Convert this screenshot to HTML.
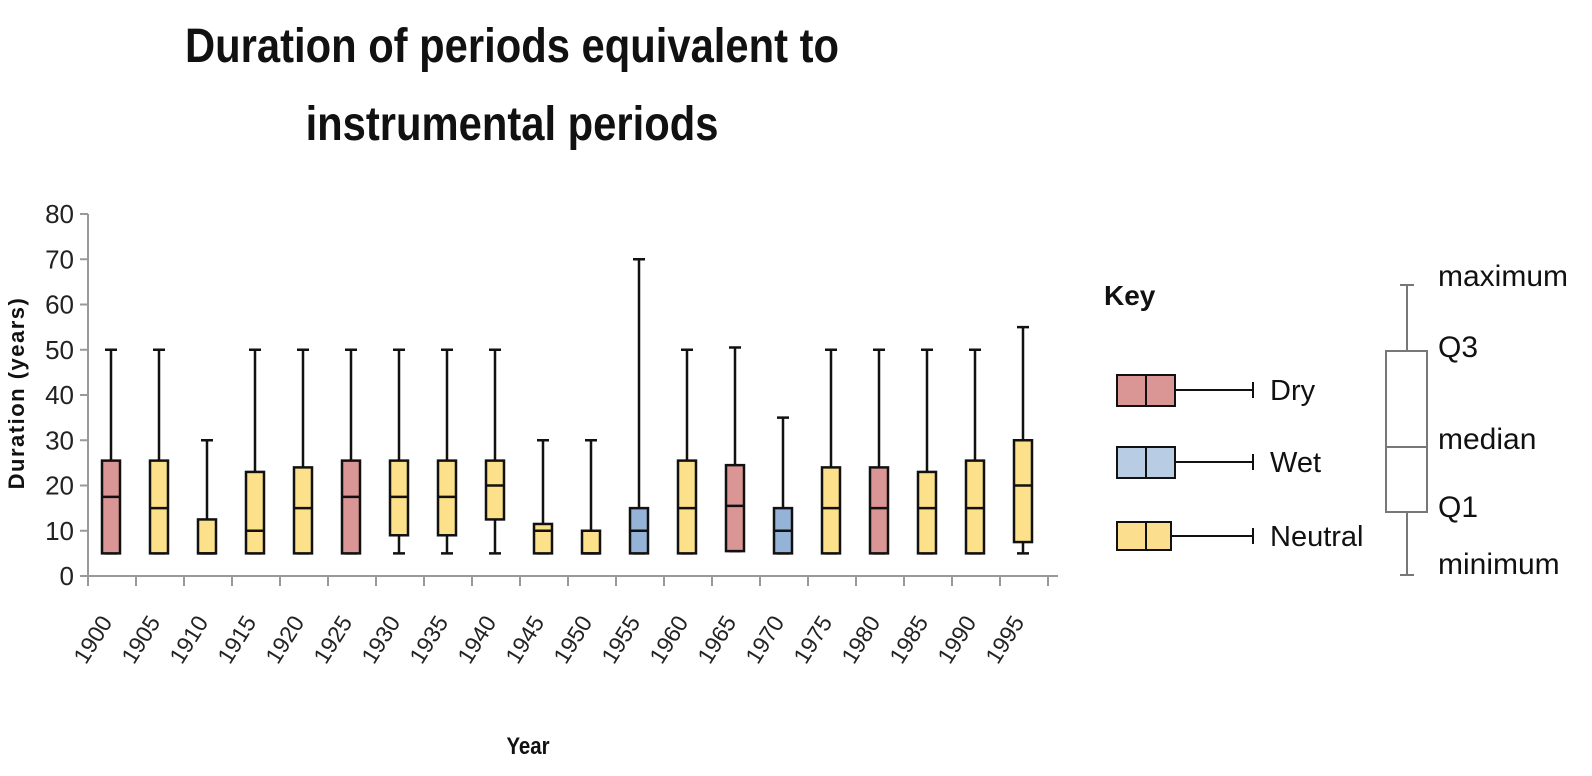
<!DOCTYPE html>
<html><head><meta charset="utf-8"><style>
body{margin:0;background:#fff;}
svg{display:block;font-family:"Liberation Sans",sans-serif;}
</style></head><body>
<svg width="1592" height="776" viewBox="0 0 1592 776">
<text x="512" y="62" text-anchor="middle" font-size="48" font-weight="bold" fill="#111" transform="translate(512 0) scale(0.87 1) translate(-512 0)">Duration of periods equivalent to</text>
<text x="512" y="140" text-anchor="middle" font-size="48" font-weight="bold" fill="#111" transform="translate(512 0) scale(0.87 1) translate(-512 0)">instrumental periods</text>
<text transform="translate(24 393) rotate(-90)" text-anchor="middle" font-size="22" font-weight="bold" fill="#111" letter-spacing="1.5">Duration  (years)</text>
<text x="528" y="754" text-anchor="middle" font-size="24" font-weight="bold" fill="#111" transform="translate(528 0) scale(0.85 1) translate(-528 0)">Year</text>
<g id="axes"></g>
<g id="boxes"></g>
<g id="legend">
  <text x="1104" y="305" font-size="28" font-weight="bold" fill="#111">Key</text>
  <g>
    <rect x="1117" y="375" width="58" height="31" fill="#d99694" stroke="#111" stroke-width="2"/>
    <line x1="1146" y1="375" x2="1146" y2="406" stroke="#111" stroke-width="2"/>
    <line x1="1175" y1="390" x2="1253" y2="390" stroke="#111" stroke-width="2"/>
    <line x1="1253" y1="382" x2="1253" y2="398" stroke="#111" stroke-width="2"/>
    <text x="1270" y="400" font-size="29" fill="#111">Dry</text>
  </g>
  <g>
    <rect x="1117" y="447" width="58" height="31" fill="#b8cce4" stroke="#111" stroke-width="2"/>
    <line x1="1146" y1="447" x2="1146" y2="478" stroke="#111" stroke-width="2"/>
    <line x1="1175" y1="462" x2="1253" y2="462" stroke="#111" stroke-width="2"/>
    <line x1="1253" y1="454" x2="1253" y2="470" stroke="#111" stroke-width="2"/>
    <text x="1270" y="472" font-size="29" fill="#111">Wet</text>
  </g>
  <g>
    <rect x="1117" y="522" width="54" height="28" fill="#fcdf8e" stroke="#111" stroke-width="2"/>
    <line x1="1146" y1="522" x2="1146" y2="550" stroke="#111" stroke-width="2"/>
    <line x1="1171" y1="536" x2="1253" y2="536" stroke="#111" stroke-width="2"/>
    <line x1="1253" y1="528" x2="1253" y2="544" stroke="#111" stroke-width="2"/>
    <text x="1270" y="546" font-size="29" fill="#111">Neutral</text>
  </g>
</g>
<g stroke="#777" stroke-width="2" fill="none">
  <line x1="1407" y1="285" x2="1407" y2="351"/>
  <line x1="1400" y1="285" x2="1414" y2="285"/>
  <rect x="1386" y="351" width="41" height="161" fill="#fff"/>
  <line x1="1386" y1="447" x2="1427" y2="447"/>
  <line x1="1407" y1="512" x2="1407" y2="575"/>
  <line x1="1400" y1="575" x2="1414" y2="575"/>
</g>
<g font-size="30" fill="#111">
  <text x="1438" y="286">maximum</text>
  <text x="1438" y="357">Q3</text>
  <text x="1438" y="449">median</text>
  <text x="1438" y="517">Q1</text>
  <text x="1438" y="574">minimum</text>
</g>
</svg>
<script>
const years=['1900','1905','1910','1915','1920','1925','1930','1935','1940','1945','1950','1955','1960','1965','1970','1975','1980','1985','1990','1995'];
const types=['dry','neutral','neutral','neutral','neutral','dry','neutral','neutral','neutral','neutral','neutral','wet','neutral','dry','wet','neutral','dry','neutral','neutral','neutral'];
const mins=[5,5,5,5,5,5,5,5,5,5,5,5,5,5.5,5,5,5,5,5,5];
const q1s=[5,5,5,5,5,5,9,9,12.5,5,5,5,5,5.5,5,5,5,5,5,7.5];
const medians=[17.5,15,5,10,15,17.5,17.5,17.5,20,10,5,10,15,15.5,10,15,15,15,15,20];
const q3s=[25.5,25.5,12.5,23,24,25.5,25.5,25.5,25.5,11.5,10,15,25.5,24.5,15,24,24,23,25.5,30];
const maxs=[50,50,30,50,50,50,50,50,50,30,30,70,50,50.5,35,50,50,50,50,55];
const yTicks=[0,10,20,30,40,50,60,70,80];
const colors={dry:'#d99694',wet:'#95b3d7',neutral:'#fde08a'};
const NS='http://www.w3.org/2000/svg';
const y0=576,pxPer=4.525,x0=88,band=48;
const yS=v=>y0-v*pxPer;
const xC=i=>x0+band*i+23;
function mk(t,a,p){const e=document.createElementNS(NS,t);for(const k in a)e.setAttribute(k,a[k]);p.appendChild(e);return e;}
const ax=document.getElementById('axes');
mk('line',{x1:x0,y1:yS(80),x2:x0,y2:y0,stroke:'#999','stroke-width':2},ax);
mk('line',{x1:x0-8,y1:y0,x2:x0+band*20+10,y2:y0,stroke:'#999','stroke-width':2},ax);
yTicks.forEach(v=>{
  const t=mk('line',{x1:x0-8,y1:yS(v),x2:x0,y2:yS(v),stroke:'#999','stroke-width':2},ax);
  
  
  const l=mk('text',{x:x0-14,y:yS(v)+9,'text-anchor':'end','font-size':26,fill:'#222'},ax);
  l.textContent=v;
  
  
});
for(let i=0;i<=20;i++){mk('line',{x1:x0+band*i,y1:y0,x2:x0+band*i,y2:y0+10,stroke:'#999','stroke-width':2},ax);}
years.forEach((yr,i)=>{
  const cx=xC(i)+2,cy=622;
  const l=mk('text',{x:cx,y:cy,'text-anchor':'end','font-size':23,fill:'#222',transform:`rotate(-58 ${cx} ${cy})`},ax);
  l.textContent=yr;
  
  
});
const bx=document.getElementById('boxes');
years.forEach((yr,i)=>{
  const g=mk('g',{stroke:'#111','stroke-width':2.5},bx);
  
  
  const c=xC(i),w=18;
  mk('line',{x1:c,y1:yS(maxs[i]),x2:c,y2:yS(q3s[i])},g);
  mk('line',{x1:c-6,y1:yS(maxs[i]),x2:c+6,y2:yS(maxs[i])},g);
  mk('line',{x1:c,y1:yS(q1s[i]),x2:c,y2:yS(mins[i])},g);
  mk('line',{x1:c-6,y1:yS(mins[i]),x2:c+6,y2:yS(mins[i])},g);
  mk('rect',{x:c-w/2,y:yS(q3s[i]),width:w,height:yS(q1s[i])-yS(q3s[i]),fill:colors[types[i]]},g);
  mk('line',{x1:c-w/2,y1:yS(medians[i]),x2:c+w/2,y2:yS(medians[i])},g);
});
</script>
</body></html>
